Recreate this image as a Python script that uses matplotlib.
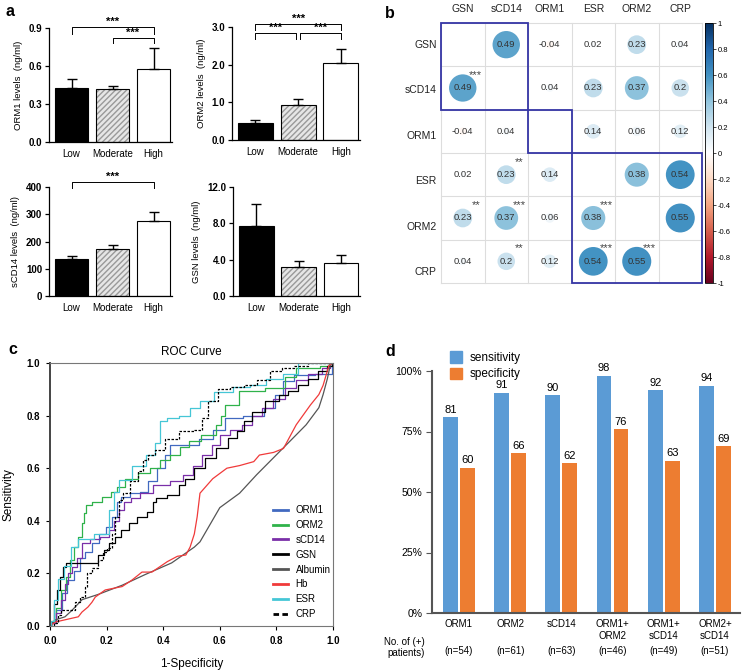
import matplotlib.pyplot as plt
import numpy as np
from matplotlib.patches import Circle, Rectangle, Patch
from matplotlib.colors import LinearSegmentedColormap, Normalize
import matplotlib.colorbar as mcolorbar

plt.rcParams['font.family'] = ['Liberation Sans', 'DejaVu Sans']

# ---------------- panel a: protein levels by disease activity
groups = ['Low', 'Moderate', 'High']
orm1_mean = [0.43, 0.42, 0.58]
orm1_err = [0.065, 0.02, 0.165]
orm2_mean = [0.44, 0.93, 2.04]
orm2_err = [0.09, 0.17, 0.37]
scd14_mean = [136, 172, 275]
scd14_err = [11, 14, 34]
gsn_mean = [7.66, 3.17, 3.68]
gsn_err = [2.45, 0.73, 0.85]

# ---------------- panel b: correlation matrix
corr_labels = ['GSN', 'sCD14', 'ORM1', 'ESR', 'ORM2', 'CRP']
corr_values = [
    [1.00, 0.49, -0.04, 0.02, 0.23, 0.04],
    [0.49, 1.00, 0.04, 0.23, 0.37, 0.20],
    [-0.04, 0.04, 1.00, 0.14, 0.06, 0.12],
    [0.02, 0.23, 0.14, 1.00, 0.38, 0.54],
    [0.23, 0.37, 0.06, 0.38, 1.00, 0.55],
    [0.04, 0.20, 0.12, 0.54, 0.55, 1.00],
]
corr_stars = [(1, 0, '***'), (3, 1, '**'), (4, 0, '**'), (4, 1, '***'),
              (4, 3, '***'), (5, 1, '**'), (5, 3, '***'), (5, 4, '***')]
clusters = [(0, 2), (2, 1), (3, 3)]  # (first index, size)

# ---------------- panel c: ROC curves (fpr, tpr)
roc_orm1 = ([0, 0.01, 0.03, 0.053, 0.07, 0.1, 0.113, 0.134, 0.16, 0.184, 0.21, 0.23, 0.24, 0.265, 0.3,
             0.335, 0.36, 0.395, 0.415, 0.43, 0.5, 0.55, 0.6, 0.635, 0.73, 0.78, 0.81, 0.84, 0.885, 0.99, 1.0],
            [0, 0.01, 0.06, 0.125, 0.175, 0.21, 0.26, 0.28, 0.315, 0.35, 0.375, 0.415, 0.47, 0.49, 0.505,
             0.51, 0.55, 0.6, 0.65, 0.69, 0.69, 0.71, 0.745, 0.79, 0.8, 0.83, 0.88, 0.93, 0.955, 0.96, 1.0])
roc_orm2 = ([0, 0.01, 0.03, 0.046, 0.064, 0.078, 0.095, 0.106, 0.117, 0.124, 0.13, 0.17, 0.2, 0.23, 0.24,
             0.29, 0.335, 0.37, 0.405, 0.44, 0.48, 0.5, 0.57, 0.6, 0.61, 0.625, 0.71, 0.81, 0.85, 0.885,
             0.94, 0.97, 1.0],
            [0, 0.02, 0.07, 0.135, 0.185, 0.25, 0.3, 0.34, 0.39, 0.43, 0.46, 0.47, 0.49, 0.51, 0.53,
             0.56, 0.58, 0.6, 0.63, 0.65, 0.68, 0.705, 0.725, 0.765, 0.8, 0.84, 0.895, 0.905, 0.945, 0.98,
             0.98, 0.99, 1.0])
roc_scd14 = ([0, 0.01, 0.03, 0.046, 0.06, 0.07, 0.088, 0.1, 0.124, 0.16, 0.195, 0.22, 0.235, 0.25, 0.27,
              0.3, 0.335, 0.395, 0.45, 0.49, 0.52, 0.555, 0.59, 0.61, 0.66, 0.695, 0.73, 0.765, 0.81, 0.85,
              0.885, 0.94, 0.98, 1.0],
             [0, 0.01, 0.05, 0.1, 0.16, 0.2, 0.225, 0.26, 0.315, 0.33, 0.34, 0.365, 0.4, 0.44, 0.47,
              0.485, 0.505, 0.535, 0.55, 0.575, 0.61, 0.65, 0.69, 0.725, 0.745, 0.765, 0.8, 0.83, 0.865,
              0.905, 0.935, 0.96, 0.98, 1.0])
roc_gsn = ([0, 0.01, 0.018, 0.03, 0.04, 0.053, 0.06, 0.16, 0.18, 0.2, 0.22, 0.24, 0.265, 0.29, 0.325, 0.36,
            0.37, 0.38, 0.45, 0.465, 0.49, 0.53, 0.565, 0.61, 0.65, 0.67, 0.7, 0.73, 0.79, 0.825, 0.86,
            0.895, 0.93, 0.965, 0.99, 1.0],
           [0, 0.015, 0.085, 0.135, 0.185, 0.225, 0.24, 0.24, 0.27, 0.29, 0.315, 0.34, 0.365, 0.39, 0.415,
            0.435, 0.47, 0.485, 0.5, 0.535, 0.56, 0.6, 0.64, 0.675, 0.715, 0.74, 0.78, 0.815, 0.855, 0.88,
            0.895, 0.915, 0.94, 0.97, 0.99, 1.0])
roc_albumin = ([0, 0.018, 0.053, 0.078, 0.1, 0.113, 0.17, 0.255, 0.335, 0.43, 0.51, 0.53, 0.6, 0.67, 0.73,
                0.79, 0.85, 0.905, 0.95, 0.965, 0.98, 0.99, 1.0],
               [0, 0.023, 0.035, 0.06, 0.085, 0.1, 0.12, 0.155, 0.195, 0.24, 0.3, 0.32, 0.45, 0.505, 0.575,
                0.64, 0.705, 0.765, 0.83, 0.88, 0.94, 0.99, 1.0])
roc_hb = ([0, 0.018, 0.1, 0.113, 0.134, 0.148, 0.16, 0.195, 0.255, 0.29, 0.325, 0.36, 0.415, 0.45, 0.48,
           0.495, 0.51, 0.52, 0.53, 0.575, 0.625, 0.67, 0.72, 0.74, 0.79, 0.825, 0.87, 0.92, 0.95, 0.965,
           0.98, 0.985, 1.0],
          [0, 0.015, 0.035, 0.053, 0.072, 0.09, 0.11, 0.137, 0.15, 0.175, 0.205, 0.205, 0.245, 0.265, 0.27,
           0.3, 0.35, 0.415, 0.505, 0.56, 0.6, 0.61, 0.625, 0.65, 0.66, 0.675, 0.765, 0.84, 0.88, 0.915,
           0.97, 0.99, 1.0])
roc_esr = ([0, 0.01, 0.02, 0.04, 0.06, 0.09, 0.11, 0.2, 0.22, 0.23, 0.26, 0.32, 0.36, 0.38, 0.40, 0.43,
            0.48, 0.51, 0.55, 0.61, 0.68, 0.73, 0.8, 0.85, 0.9, 1.0],
           [0, 0.02, 0.1, 0.18, 0.23, 0.3, 0.33, 0.35, 0.44, 0.51, 0.555, 0.61, 0.65, 0.695, 0.78, 0.79,
            0.8, 0.83, 0.855, 0.89, 0.91, 0.915, 0.94, 0.96, 1.0, 1.0])
roc_crp = ([0, 0.025, 0.03, 0.05, 0.08, 0.095, 0.12, 0.13, 0.135, 0.16, 0.18, 0.195, 0.21, 0.225, 0.235,
            0.25, 0.265, 0.3, 0.32, 0.335, 0.36, 0.38, 0.43, 0.48, 0.535, 0.54, 0.58, 0.61, 0.66, 0.71,
            0.755, 0.8, 0.84, 0.885, 0.94, 1.0],
           [0, 0.01, 0.04, 0.06, 0.06, 0.09, 0.11, 0.15, 0.2, 0.22, 0.25, 0.28, 0.295, 0.35, 0.415, 0.48,
            0.505, 0.55, 0.59, 0.63, 0.65, 0.67, 0.71, 0.74, 0.745, 0.79, 0.855, 0.9, 0.91, 0.915, 0.935,
            0.97, 0.98, 0.99, 1.0, 1.0])

# ---------------- panel d: sensitivity / specificity
combos = ['ORM1', 'ORM2', 'sCD14', 'ORM1+\nORM2', 'ORM1+\nsCD14', 'ORM2+\nsCD14']
sensitivity = [81, 91, 90, 98, 92, 94]
specificity = [60, 66, 62, 76, 63, 69]
n_pos = [54, 61, 63, 46, 49, 51]

W, H = 742, 670
fig = plt.figure(figsize=(W / 100, H / 100), dpi=100)


def px_rect(x0, y0, x1, y1):
    # pixel box (top-left origin) -> figure fraction rect
    return [x0 / W, 1 - y1 / H, (x1 - x0) / W, (y1 - y0) / H]


def level_panel(rect, means, errs, ymax, yticks, ylabels, ylabel, brackets):
    ax = fig.add_axes(rect)
    x = np.arange(3)
    w = 0.82
    ax.bar(x[0], means[0], w, color='black', edgecolor='black', lw=0.8)
    ax.bar(x[1], means[1], w, color='#e6e6e6', edgecolor='#999999', hatch='//////', lw=0)
    ax.bar(x[1], means[1], w, fill=False, edgecolor='black', lw=0.8)
    ax.bar(x[2], means[2], w, color='white', edgecolor='black', lw=0.8)
    ax.errorbar(x, means, yerr=[np.zeros(3), errs], fmt='none', ecolor='black',
                elinewidth=1.0, capsize=3.5, capthick=1.0)
    ax.set_xlim(-0.55, 2.45)
    ax.set_ylim(0, ymax)
    ax.set_yticks(yticks)
    ax.set_yticklabels(ylabels, fontsize=7, fontweight='bold')
    ax.set_xticks(x)
    ax.set_xticklabels(groups, fontsize=7)
    ax.tick_params(axis='x', length=0, pad=5)
    ax.tick_params(axis='y', length=3, width=0.9, direction='out', pad=2)
    for s in ['top', 'right']:
        ax.spines[s].set_visible(False)
    for s in ['left', 'bottom']:
        ax.spines[s].set_linewidth(0.9)
    ax.set_ylabel(ylabel, fontsize=6.8, labelpad=4)
    for x1, x2, y, drop in brackets:
        ax.plot([x1, x1, x2, x2], [y - drop, y, y, y - drop], color='black', lw=0.7, clip_on=False)
        ax.text((x1 + x2) / 2, y + ymax * 0.005, '***', ha='center', va='bottom',
                fontsize=8, fontweight='bold')
    return ax


level_panel(px_rect(49, 28, 172, 142), orm1_mean, orm1_err, 0.9, [0, 0.3, 0.6, 0.9],
            ['0.0', '0.3', '0.6', '0.9'], 'ORM1 levels  (ng/ml)',
            [(0, 2, 0.905, 0.05), (1, 2, 0.82, 0.04)])
level_panel(px_rect(232, 27, 360, 140), orm2_mean, orm2_err, 3.0, [0, 1, 2, 3],
            ['0.0', '1.0', '2.0', '3.0'], 'ORM2 levels  (ng/ml)',
            [(0, 2, 3.08, 0.17), (0, 0.96, 2.84, 0.17), (1.04, 2, 2.84, 0.17)])
level_panel(px_rect(49, 187, 172, 296), scd14_mean, scd14_err, 400, [0, 100, 200, 300, 400],
            ['0', '100', '200', '300', '400'], 'sCD14 levels  (ng/ml)',
            [(0, 2, 417, 20)])
level_panel(px_rect(233, 187, 360, 296), gsn_mean, gsn_err, 12, [0, 4, 8, 12],
            ['0.0', '4.0', '8.0', '12.0'], 'GSN levels  (ng/ml)', [])

# ---------------- panel b
cmap = LinearSegmentedColormap.from_list(
    'corr', ['#67001F', '#B2182B', '#D6604D', '#F4A582', '#FDDBC7', '#FFFFFF',
             '#D1E5F0', '#92C5DE', '#4393C3', '#2166AC', '#053061'])
norm = Normalize(-1, 1)
axb = fig.add_axes(px_rect(441, 23, 702, 283))
n = len(corr_labels)
axb.set_xlim(0, n)
axb.set_ylim(n, 0)
axb.axis('off')
for k in range(n + 1):
    axb.plot([k, k], [0, n], color='#dddddd', lw=0.8, zorder=1, clip_on=False)
    axb.plot([0, n], [k, k], color='#dddddd', lw=0.8, zorder=1, clip_on=False)
for i in range(n):
    for j in range(n):
        if i == j:
            continue
        r = corr_values[i][j]
        axb.add_patch(Circle((j + 0.5, i + 0.5), 0.45 * np.sqrt(abs(r)),
                             facecolor=cmap(norm(r * 1.1)), edgecolor='none', zorder=2))
        axb.text(j + 0.5, i + 0.5, f'{r:g}', ha='center', va='center', fontsize=6.8,
                 color='#333333', zorder=3)
for i, j, s in corr_stars:
    axb.text(j + 0.8, i + 0.2, s, ha='center', va='center', fontsize=8, color='#444444', zorder=3)
for start, size in clusters:
    axb.add_patch(Rectangle((start, start), size, size, fill=False, edgecolor='#3535a5',
                            lw=1.3, zorder=4, clip_on=False))
for k, lab in enumerate(corr_labels):
    axb.text(k + 0.5, -0.2, lab, ha='center', va='bottom', fontsize=7.5, color='#222222')
    axb.text(-0.1, k + 0.5 + 0.05 * k, lab, ha='right', va='center', fontsize=7.5, color='#222222')

axc_bar = fig.add_axes(px_rect(705, 23, 713, 283))
cb = mcolorbar.ColorbarBase(axc_bar, cmap=cmap, norm=norm, orientation='vertical')
cb.set_ticks([-1, -0.8, -0.6, -0.4, -0.2, 0, 0.2, 0.4, 0.6, 0.8, 1])
cb.set_ticklabels(['-1', '-0.8', '-0.6', '-0.4', '-0.2', '0', '0.2', '0.4', '0.6', '0.8', '1'])
cb.ax.tick_params(labelsize=5.5, length=2, width=0.5, pad=1.5)
cb.outline.set_linewidth(0.6)

# ---------------- panel c
axc = fig.add_axes(px_rect(50, 363, 333, 626))
curves = [
    (roc_orm1, 'ORM1', '#4169c0', '-'),
    (roc_orm2, 'ORM2', '#2fb24a', '-'),
    (roc_scd14, 'sCD14', '#7a2fa8', '-'),
    (roc_gsn, 'GSN', 'black', '-'),
    (roc_albumin, 'Albumin', '#555555', '-'),
    (roc_hb, 'Hb', '#f03a3a', '-'),
    (roc_esr, 'ESR', '#45c6d6', '-'),
    (roc_crp, 'CRP', 'black', (0, (2, 1.2))),
]
for (fx, ty), lab, col, ls in curves:
    ds = 'default' if lab in ('Albumin', 'Hb') else 'steps-mid'
    axc.plot(fx, ty, color=col, lw=0.9, ls=ls, drawstyle=ds, label=lab)
axc.set_xlim(0, 1)
axc.set_ylim(0, 1)
ticks = [0, 0.2, 0.4, 0.6, 0.8, 1.0]
axc.set_xticks(ticks)
axc.set_yticks(ticks)
axc.set_xticklabels([f'{t:.1f}' for t in ticks], fontsize=7, fontweight='bold')
axc.set_yticklabels([f'{t:.1f}' for t in ticks], fontsize=7, fontweight='bold')
axc.tick_params(length=3, width=0.8, direction='out', pad=4)
for s in axc.spines.values():
    s.set_color('#777777')
    s.set_linewidth(0.8)
axc.spines['left'].set_color('#444444')
axc.spines['left'].set_linewidth(1.4)
axc.set_title('ROC Curve', fontsize=8.5, pad=6)
axc.set_xlabel('1-Specificity', fontsize=8.5, labelpad=9)
axc.set_ylabel('Sensitivity', fontsize=8.5, labelpad=9)
leg = axc.legend(loc='lower left', bbox_to_anchor=(0.765, 0.0), frameon=False, fontsize=7,
                 handlelength=1.5, handletextpad=0.8, labelspacing=0.5, borderpad=0.2)
for h in leg.legend_handles:
    h.set_linewidth(2)

# ---------------- panel d
axd = fig.add_axes(px_rect(432, 371, 740, 613))
xd = np.arange(len(combos))
bw = 0.29
off = 0.166
axd.bar(xd - off, sensitivity, bw, color='#5b9bd5', label='sensitivity')
axd.bar(xd + off, specificity, bw, color='#ed7d31', label='specificity')
for k in range(len(combos)):
    axd.text(xd[k] - off, sensitivity[k] + 1.0, str(sensitivity[k]), ha='center', va='bottom', fontsize=8)
    axd.text(xd[k] + off, specificity[k] + 1.0, str(specificity[k]), ha='center', va='bottom', fontsize=8)
    axd.text(xd[k], -2.6, combos[k], ha='center', va='top', fontsize=7, linespacing=1.2)
    axd.text(xd[k], -15.7, f'(n={n_pos[k]})', ha='center', va='center', fontsize=7)
axd.text(-0.66, -14.3, 'No. of (+)\npatients)', ha='right', va='center', fontsize=7,
         multialignment='right', linespacing=1.2)
axd.set_xlim(-0.527, 5.49)
axd.set_ylim(0, 100)
axd.set_yticks([0, 25, 50, 75, 100])
axd.set_yticklabels(['0%', '25%', '50%', '75%', '100%'], fontsize=7.5)
axd.set_xticks([])
axd.tick_params(axis='y', length=4, width=0.8, direction='out', pad=3, color='#555555')
for s in ['top', 'right']:
    axd.spines[s].set_visible(False)
for s in ['left', 'bottom']:
    axd.spines[s].set_color('#555555')
    axd.spines[s].set_linewidth(1.5)
axd.legend(handles=[Patch(color='#5b9bd5', label='sensitivity'),
                    Patch(color='#ed7d31', label='specificity')],
           loc='upper left', bbox_to_anchor=(0.03, 1.115), frameon=False, fontsize=8.5,
           handlelength=1.1, handleheight=1.1, handletextpad=0.6, labelspacing=0.3, borderpad=0.2)

# panel letters
for lab, (px, py) in zip('abcd', [(5, 12), (385, 14), (8, 350), (385, 352)]):
    fig.text(px / W, 1 - py / H, lab, fontsize=11.5, fontweight='bold', ha='left', va='center')

fig.savefig('out.png', dpi=100)
